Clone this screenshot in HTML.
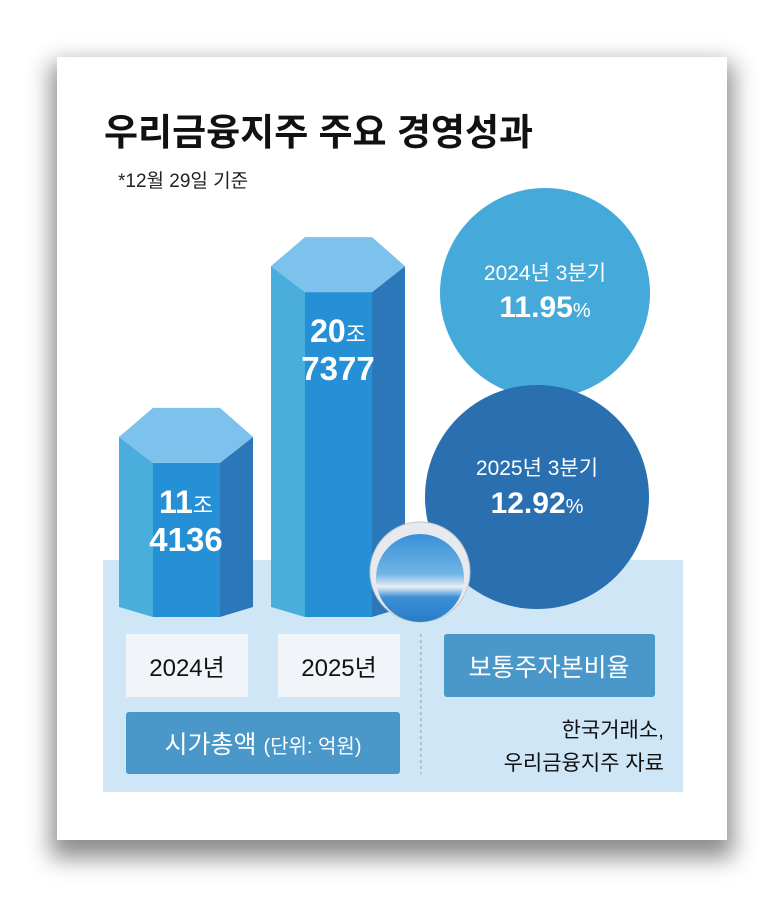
<!DOCTYPE html>
<html><head><meta charset="utf-8">
<style>
body{margin:0;width:780px;height:897px;background:#fff;overflow:hidden;font-family:"Liberation Sans","Noto Sans CJK KR",sans-serif}
#card{position:absolute;left:57px;top:57px;width:670px;height:783px;background:#fff;box-shadow:0 12px 22px 6px rgba(0,0,0,0.45)}
svg{position:absolute;left:0;top:0}
</style></head><body>
<div id="card"></div>
<svg id="chart" width="780" height="897">
<rect x="103" y="560" width="580" height="232" fill="#cfe6f7"/>
<text x="104" y="145" font-size="37" font-weight="bold" fill="#111">우리금융지주 주요 경영성과</text>
<text x="118" y="187" font-size="19" fill="#222">*12월 29일 기준</text>
<g id="bars"></g>
<circle cx="545" cy="293" r="105" fill="#45a9da"/>
<circle cx="537" cy="497" r="112" fill="#2a6fb0"/>
<text x="545" y="280" font-size="21" fill="#fff" text-anchor="middle">2024년 3분기</text>
<text x="545" y="317" font-size="30" font-weight="bold" fill="#fff" text-anchor="middle">11.95<tspan font-size="20" font-weight="normal">%</tspan></text>
<text x="537" y="475" font-size="21" fill="#fff" text-anchor="middle">2025년 3분기</text>
<text x="537" y="513" font-size="30" font-weight="bold" fill="#fff" text-anchor="middle">12.92<tspan font-size="20" font-weight="normal">%</tspan></text>
<defs><linearGradient id="sph" x1="0" y1="0" x2="0" y2="1"><stop offset="0" stop-color="#3a8fd6"/><stop offset="0.45" stop-color="#6fb4e6"/><stop offset="0.6" stop-color="#e8eef4"/><stop offset="0.72" stop-color="#3a8fd6"/><stop offset="1" stop-color="#2a7cc8"/></linearGradient></defs>
<circle cx="420" cy="572" r="50" fill="#e6e9ee" stroke="#c4c8ce"/>
<circle cx="420" cy="578" r="44" fill="url(#sph)"/>
<rect x="126" y="634" width="122" height="63" fill="#f1f5fa"/>
<text x="187" y="676" font-size="24" fill="#111" text-anchor="middle">2024년</text>
<rect x="278" y="634" width="122" height="63" fill="#f1f5fa"/>
<text x="339" y="676" font-size="24" fill="#111" text-anchor="middle">2025년</text>
<rect x="444" y="634" width="211" height="63" rx="3" fill="#4a97ca"/>
<text x="549" y="676" font-size="25" fill="#fff" text-anchor="middle">보통주자본비율</text>
<rect x="126" y="712" width="274" height="62" rx="3" fill="#4a97ca"/>
<text x="263" y="753" font-size="25" fill="#fff" text-anchor="middle">시가총액 <tspan font-size="20">(단위: 억원)</tspan></text>
<line x1="421" y1="634" x2="421" y2="774" stroke="#8aa0b4" stroke-dasharray="3,3"/>
<text x="664" y="737" font-size="21" fill="#111" text-anchor="end">한국거래소,</text>
<text x="664" y="770" font-size="21" fill="#111" text-anchor="end">우리금융지주 자료</text>
</svg>
<script>
const categories=["2024","2025"];
const valuesJo=[11.4136,20.7377];
const labelTop=["11","20"];
const labelBottom=["4136","7377"];
const g=document.getElementById('bars');
const NS='http://www.w3.org/2000/svg';
const base=617, pxPerJo=18.32;
const y=v=>base-v*pxPerJo;
const xs=[119,271], w=134;
function mk(tag,attrs){const e=document.createElementNS(NS,tag);for(const k in attrs)e.setAttribute(k,attrs[k]);g.appendChild(e);return e;}
valuesJo.forEach((v,i)=>{
  const x0=xs[i],top=y(v),a=x0+34,b=x0+101,r=x0+w,cap=55,mid=top+29;
  let e;
  e=mk('polygon',{points:`${x0},${mid} ${a},${top+cap} ${a},${base} ${x0},${base-10}`,fill:'#4aaedc'});
  
  
  e=mk('rect',{x:a,y:top+cap,width:b-a,height:base-top-cap,fill:'#2590d5'});
  
  
  e=mk('polygon',{points:`${b},${top+cap} ${r},${mid} ${r},${base-10} ${b},${base}`,fill:'#2c77ba'});
  
  
  e=mk('polygon',{points:`${x0},${mid} ${a},${top} ${b},${top} ${r},${mid} ${b},${top+cap} ${a},${top+cap}`,fill:'#7cc2ec'});
  
  
  const cx=x0+w/2;
  e=mk('text',{x:cx,y:top+105,'font-size':32,'font-weight':'bold',fill:'#fff','text-anchor':'middle'});
  e.innerHTML=labelTop[i]+'<tspan font-size="22" font-weight="normal">조</tspan>';
  
  
  e=mk('text',{x:cx,y:top+143,'font-size':33,'font-weight':'bold',fill:'#fff','text-anchor':'middle'});
  e.textContent=labelBottom[i];
  
  
});
</script>
</body></html>
